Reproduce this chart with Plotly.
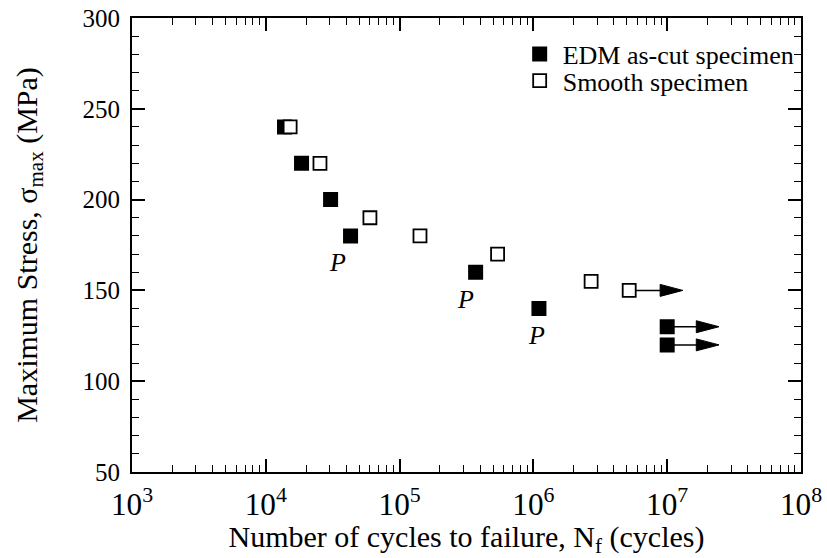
import math
import plotly.graph_objects as go

# ---- data ----
edm_cycles = [1.38e4, 1.85e4, 3.05e4, 4.3e4, 3.7e5, 1.1e6, 1.0e7, 1.0e7]
edm_stress = [240, 220, 200, 180, 160, 140, 130, 120]
smooth_cycles = [1.52e4, 2.54e4, 6.0e4, 1.42e5, 5.4e5, 2.7e6, 5.2e6]
smooth_stress = [240, 220, 190, 180, 170, 155, 150]

# run-out arrows (start cycles, stress, arrow tip cycles)
runout_start = [5.2e6, 1.0e7, 1.0e7]
runout_stress = [150, 130, 120]
runout_tip = [1.31e7, 2.44e7, 2.44e7]

# "P" labels below these EDM points
p_cycles = [4.3e4, 3.7e5, 1.1e6]
p_stress = [180, 160, 140]

FONT = "Liberation Serif"

# style constants
HEAD_LEN_DEC = 0.17   # arrow head length in decades
HEAD_HALF = 3.3       # arrow head half height in MPa

fig = go.Figure()

# arrow shafts and heads
for xs, ys, xt in zip(runout_start, runout_stress, runout_tip):
    fig.add_trace(go.Scatter(x=[xs, xt / 10 ** (HEAD_LEN_DEC * 0.5)], y=[ys, ys], mode="lines",
                             line=dict(color="black", width=1.5),
                             showlegend=False, hoverinfo="skip"))
    xb = xt / 10 ** HEAD_LEN_DEC
    fig.add_trace(go.Scatter(x=[xb, xt, xb, xb], y=[ys + HEAD_HALF, ys, ys - HEAD_HALF, ys + HEAD_HALF],
                             mode="lines", fill="toself", fillcolor="black",
                             line=dict(color="black", width=1),
                             showlegend=False, hoverinfo="skip"))

fig.add_trace(go.Scatter(x=edm_cycles, y=edm_stress, mode="markers",
                         name="EDM as-cut specimen", legend="legend",
                         marker=dict(symbol="square", size=13.5, color="black",
                                     line=dict(color="black", width=1.5))))
fig.add_trace(go.Scatter(x=smooth_cycles, y=smooth_stress, mode="markers",
                         name="Smooth specimen", legend="legend2",
                         marker=dict(symbol="square", size=13, color="white",
                                     line=dict(color="black", width=1.8))))

p_xshift = [-13, -10, -2]
for xv, yv, dx in zip(p_cycles, p_stress, p_xshift):
    fig.add_annotation(x=math.log10(xv), y=yv, xref="x", yref="y", text="<i>P</i>",
                       showarrow=False, xshift=dx, yshift=-27,
                       font=dict(family=FONT, size=26, color="black"))

axis_common = dict(showline=True, linecolor="black", linewidth=1.8, mirror="allticks",
                   ticks="inside", tickcolor="black", tickwidth=1.5, ticklen=13,
                   showgrid=False, zeroline=False, ticklabelstandoff=5,
                   ticklabeloverflow="allow", automargin=False,
                   tickfont=dict(family=FONT, size=25, color="black"))

fig.update_xaxes(type="log", range=[3, 8], dtick=1, exponentformat="power",
                 minor=dict(ticks="inside", dtick="D1", ticklen=7, tickwidth=1.3,
                            tickcolor="black", showgrid=False),
                 title=dict(text="Number of cycles to failure, N<sub>f</sub> (cycles)",
                            font=dict(family=FONT, size=30, color="black"), standoff=8),
                 **axis_common)
fig.update_yaxes(range=[50, 300], dtick=50, tick0=50,
                 minor=dict(ticks="inside", dtick=10, ticklen=7, tickwidth=1.3,
                            tickcolor="black", showgrid=False),
                 title=dict(text="Maximum Stress, σ<sub>max</sub> (MPa)",
                            font=dict(family=FONT, size=30, color="black"), standoff=36),
                 **axis_common)

legend_style = dict(xanchor="left", yanchor="top", bgcolor="rgba(0,0,0,0)", borderwidth=0,
                    font=dict(family=FONT, size=26, color="black"), itemwidth=36)

fig.update_layout(
    width=827, height=558,
    margin=dict(l=132, r=26, t=18, b=86),
    paper_bgcolor="white", plot_bgcolor="white",
    legend=dict(x=0.575, y=0.972, **legend_style),
    legend2=dict(x=0.575, y=0.9134, **legend_style),
    font=dict(family=FONT, color="black"),
)

# remove the default page margin so the figure sits at the window origin
fig.write_html("out.html", config={"displayModeBar": False},
               post_script="document.body.style.margin='0';")
